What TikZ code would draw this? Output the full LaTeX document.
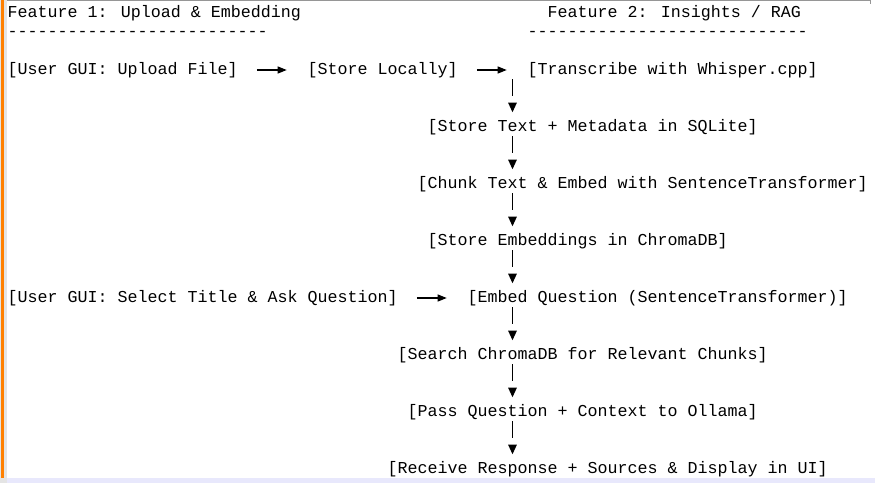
\documentclass[tikz,border=0pt]{standalone}
\usepackage{fontspec}
\newfontfamily\monofnt{Liberation Mono}
\usetikzlibrary{arrows.meta,calc}
\definecolor{edgeorange}{RGB}{255,128,0}
\definecolor{stripgray}{RGB}{228,228,228}
\definecolor{bottomlav}{RGB}{232,232,252}
\definecolor{topgray}{RGB}{150,150,150}
\begin{document}
\begin{tikzpicture}[x=1pt,y=-1pt,
  txt/.style={anchor=base west, inner sep=0pt, outer sep=0pt,
    text height=12.5pt, text depth=3.5pt,
    font=\monofnt\fontsize{16.67pt}{19pt}\selectfont},
  harrow/.style={line width=1.1pt, -{Triangle[length=9pt,width=7pt]},
    shorten <=19.2pt, shorten >=20.8pt},
  vconn/.style={line width=1.4pt, -{Triangle[length=9.6pt,width=8.4pt]},
    dash pattern=on 16.7pt off 40pt, shorten <=1.3pt, shorten >=6.7pt}]
\useasboundingbox (0,0) rectangle (875,483);
% frame
\fill[white] (0,0) rectangle (875,483);
\fill[stripgray] (0,0) rectangle (7,483);
\fill[edgeorange] (1.3,0) rectangle (4,477.7);
\fill[bottomlav] (7,478) rectangle (875,483);
\draw[topgray, line width=1pt] (7,0.8) -- (870.5,0.8) -- (870.5,3.5);
% texts
\node[txt] (f1) at (7.5,17.5) {Feature 1: Upload \& Embedding};
\node[txt] (f2) at (547.5,17.5) {Feature 2: Insights / RAG};
\node[txt] (d1) at (7.5,36.5) {--------------------------};
\node[txt] (d2) at (527.5,36.5) {----------------------------};
\node[txt] (upload) at (7.5,74.5) {[User GUI: Upload File]};
\node[txt] (storeloc) at (307.5,74.5) {[Store Locally]};
\node[txt] (transcribe) at (527.5,74.5) {[Transcribe with Whisper.cpp]};
\node[txt] (storetext) at (427.5,131.5) {[Store Text + Metadata in SQLite]};
\node[txt] (chunk) at (417.5,188.5) {[Chunk Text \& Embed with SentenceTransformer]};
\node[txt] (storeemb) at (427.5,245.5) {[Store Embeddings in ChromaDB]};
\node[txt] (select) at (7.5,302.5) {[User GUI: Select Title \& Ask Question]};
\node[txt] (embedq) at (467.5,302.5) {[Embed Question (SentenceTransformer)]};
\node[txt] (search) at (397.5,359.5) {[Search ChromaDB for Relevant Chunks]};
\node[txt] (pass) at (407.5,416.5) {[Pass Question + Context to Ollama]};
\node[txt] (receive) at (387.5,473.5) {[Receive Response + Sources \& Display in UI]};
\coordinate (spine) at (512.5,0);
% horizontal connectors
\draw[harrow] (upload) -- (storeloc);
\draw[harrow] (storeloc) -- (transcribe);
\draw[harrow] (select) -- (embedq);
% vertical connectors
\draw[vconn] (spine |- transcribe.south) -- (spine |- storetext.north);
\draw[vconn] (spine |- storetext.south) -- (spine |- chunk.north);
\draw[vconn] (spine |- chunk.south) -- (spine |- storeemb.north);
\draw[vconn] (spine |- storeemb.south) -- (spine |- embedq.north);
\draw[vconn] (spine |- embedq.south) -- (spine |- search.north);
\draw[vconn] (spine |- search.south) -- (spine |- pass.north);
\draw[vconn] (spine |- pass.south) -- (spine |- receive.north);
\end{tikzpicture}
\end{document}
